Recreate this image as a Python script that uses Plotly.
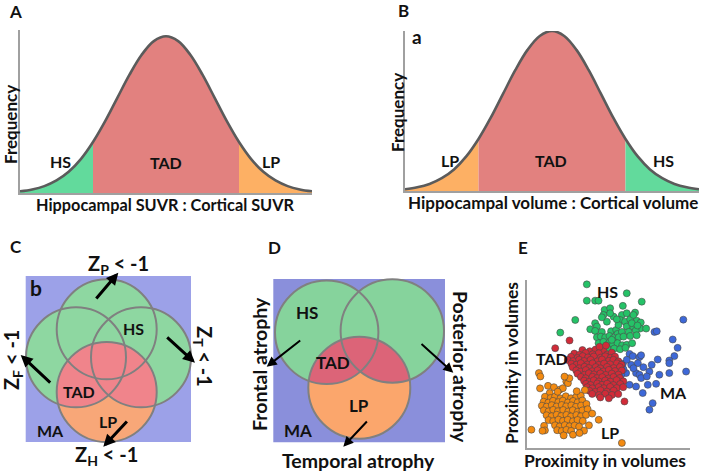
import plotly.graph_objects as go
import numpy as np

# ---------------- data ----------------
z_vals = [-3.0, -2.75, -2.5, -2.25, -2.0, -1.75, -1.5, -1.25, -1.0, -0.75, -0.5, -0.25, 0.0,
          0.25, 0.5, 0.75, 1.0, 1.25, 1.5, 1.75, 2.0, 2.25, 2.5, 2.75, 3.0]
freq_vals = [0.011, 0.023, 0.044, 0.080, 0.135, 0.216, 0.325, 0.458, 0.607, 0.755, 0.882, 0.969, 1.0,
             0.969, 0.882, 0.755, 0.607, 0.458, 0.325, 0.216, 0.135, 0.080, 0.044, 0.023, 0.011]
cut_lo, cut_hi = -1.5, 1.5
regions_A = ["HS", "TAD", "LP"]
regions_B = ["LP", "TAD", "HS"]

green_pts = [(36.7, 97.4), (36.7, 87.7), (41.8, 87.7), (43.9, 87.7), (61.2, 92.1), (70.4, 87.1), (47.6, 82.2),
             (51.0, 83.2), (46.9, 79.2), (53.1, 78.2), (58.2, 79.2), (61.2, 80.2), (66.3, 80.6), (29.6, 76.2),
             (41.8, 74.3), (42.9, 72.3), (49.0, 75.2), (57.1, 76.2), (60.2, 75.2), (63.3, 76.6), (67.3, 75.8),
             (69.8, 74.7), (61.2, 72.3), (65.3, 71.9), (69.4, 71.1), (73.1, 71.1), (20.4, 68.7), (38.8, 70.7),
             (41.8, 69.7), (45.9, 69.1), (51.6, 69.5), (54.7, 70.3), (55.5, 67.9), (58.2, 69.1), (62.4, 69.1),
             (66.7, 69.9), (42.9, 65.9), (45.3, 66.3), (48.0, 65.9), (50.6, 66.7), (53.1, 65.5), (56.3, 65.9),
             (59.2, 66.3), (63.3, 66.7), (67.3, 67.1), (43.9, 62.4), (46.9, 63.2), (50.0, 62.0), (52.7, 61.2),
             (55.5, 62.4), (58.4, 61.2), (61.2, 61.4), (64.5, 62.4), (49.4, 59.2), (53.5, 59.2), (57.1, 58.8),
             (60.4, 59.6), (56.1, 73.3), (52.0, 64.4), (65.3, 79.2), (58.8, 84.6), (51.0, 80.2), (45.9, 77.8),
             (55.1, 76.6), (64.3, 74.3), (67.8, 72.9)]
blue_pts = [(95.9, 76.4), (78.2, 69.1), (79.6, 69.5), (89.4, 64.6), (92.4, 59.6), (103.1, 58.8), (62.9, 56.0),
            (64.9, 54.7), (69.0, 54.1), (70.0, 55.2), (80.2, 52.7), (90.4, 54.7), (87.3, 52.1), (58.8, 50.1),
            (63.9, 49.5), (68.0, 50.5), (87.3, 50.5), (97.6, 45.5), (60.8, 44.6), (66.9, 44.6), (69.0, 43.6),
            (70.0, 41.6), (75.1, 45.5), (81.2, 43.6), (87.3, 44.6), (62.9, 37.6), (66.9, 36.6), (74.1, 37.6),
            (79.2, 38.2), (71.0, 32.7), (77.1, 26.7), (75.1, 22.8), (57.8, 43.6), (61.2, 52.5), (65.3, 47.5),
            (71.4, 48.1), (76.5, 49.5), (59.2, 46.9), (73.5, 42.6)]
red_pts = [(34, 58.3), (38.5, 57.6), (42, 58.6), (47, 57.9), (44.5, 60.2), (48.5, 61.0),
           (29, 56.2), (32.2, 55.5), (36, 56.6), (40.3, 55.8), (44, 56.4), (49.2, 55.7), (52, 56.8),
           (27, 54.3), (31, 53.6), (34.2, 54.7), (37.4, 53.9), (41, 54.5), (45.2, 53.8), (48, 54.6), (51.3, 53.7), (54, 54.4),
           (25, 52.4), (28.3, 51.7), (32, 52.6), (35.1, 51.8), (39, 52.5), (43.2, 51.6), (46, 52.7), (50.2, 51.9), (53, 52.5), (56.1, 51.6),
           (27.2, 50.2), (30.4, 49.6), (33, 50.5), (37.1, 49.7), (40.2, 50.4), (44, 49.5), (47.3, 50.3), (51, 49.8), (55.2, 50.4), (58, 49.6),
           (28, 48.1), (32.1, 47.5), (35.3, 48.4), (38, 47.6), (42.2, 48.2), (45, 47.4), (49.1, 48.3), (53.2, 47.6), (57, 48.2),
           (30.2, 46.2), (33, 45.5), (36.1, 46.4), (40, 45.7), (43.3, 46.3), (47, 45.6), (50.2, 46.5), (54, 45.8), (58.2, 46.1),
           (31, 44.2), (35.2, 43.6), (38, 44.5), (41.1, 43.8), (45, 44.4), (48.3, 43.5), (52, 44.3), (56.1, 43.7),
           (33.1, 42.3), (36, 41.5), (40.2, 42.4), (43, 41.6), (46.2, 42.2), (50, 41.4), (53.1, 42.3), (57, 41.7),
           (35, 40.1), (38.2, 39.4), (41, 40.3), (44.1, 39.6), (48, 40.2), (51.2, 39.5), (55, 40.4), (59.1, 39.7),
           (36.2, 38.2), (39, 37.5), (43.1, 38.4), (46, 37.6), (49.2, 38.3), (53, 37.5), (57.2, 38.1),
           (37, 36.2), (40.1, 35.5), (44, 36.3), (47.2, 35.6), (51, 36.4), (55.1, 35.7), (59, 36.2),
           (38.2, 34.1), (42, 33.5), (45.1, 34.4), (49, 33.6), (53.2, 34.2),
           (40, 32.2), (44.2, 31.5), (48, 32.3), (52.1, 31.6), (56, 32.1),
           (45, 30.1), (50.2, 29.6), (17.3, 59.4), (26.1, 64.0), (59.8, 27.7)]
orange_pts = [(7.3, 44.6), (8.2, 42.6), (12.9, 37.0), (13.9, 32.7), (20, 34.7), (22, 35.6), (24.1, 39.6), (25.1, 38.6), (26, 41.5), (23, 42.5),
              (11, 30.5), (14.5, 29.8), (17.2, 30.6), (20.5, 29.5), (23.8, 30.8), (27, 29.6), (30.2, 30.5), (33, 31.2),
              (10.2, 27.6), (13.1, 27.0), (16, 28.1), (19.2, 27.3), (22, 28.2), (25.1, 27.1), (28.3, 28.0), (31.1, 27.2), (34, 28.3),
              (9.1, 25.2), (12, 24.6), (15.2, 25.5), (18.1, 24.7), (21.3, 25.6), (24, 24.8), (27.2, 25.4), (30, 24.5), (33.2, 25.3), (36.5, 26.2),
              (10.3, 22.4), (13.2, 21.8), (16.1, 22.7), (19, 21.9), (22.2, 22.6), (25.3, 21.7), (28.1, 22.5), (31.2, 21.6), (34, 22.4), (37.2, 23.1),
              (12, 19.5), (15.1, 18.9), (18.2, 19.8), (21, 19.0), (24.2, 19.7), (27, 18.8), (30.3, 19.6), (33.1, 18.9), (36.2, 19.7), (40, 20.5),
              (13.2, 16.6), (16.1, 16.0), (19.3, 16.9), (22.1, 16.1), (25, 16.8), (28.2, 15.9), (31, 16.7), (34.2, 16.1), (44, 16.8),
              (10.5, 13.2), (17.2, 13.5), (20, 12.8), (23.2, 13.6), (26.1, 12.9), (29.2, 13.4), (32, 12.7), (38, 13.5),
              (11, 10.5), (18.5, 10.6), (21.3, 10.1), (24.2, 10.8), (27.1, 10.2), (35, 10.3),
              (2.7, 10.9), (9.5, 10.2), (22.5, 7.5), (28.2, 7.9), (32.2, 8.9), (58.2, 3.0),
              (8, 35.5), (16.5, 36.2), (18.8, 33.5), (30.5, 33.8), (35.5, 34.5)]

# ---------------- styles ----------------
FONT = "Lato, 'Open Sans', sans-serif"
W, H = 704, 472
C_TAD, C_HS, C_LP = "#e2817f", "#62da9c", "#fdb064"
CURVE = "#5b5b5b"
AXC = "#a0a0a0"

fig = go.Figure()


def dom_x(a, b):
    return [a / W, b / W]


def dom_y(top, bottom):
    return [1 - bottom / H, 1 - top / H]


region_color = {"HS": C_HS, "TAD": C_TAD, "LP": C_LP}


def add_bell(xa, ya, regions):
    z = np.array(z_vals)
    f = np.array(freq_vals)
    masks = [z <= cut_lo, (z >= cut_lo) & (z <= cut_hi), z >= cut_hi]
    for reg, m in zip(regions, masks):
        fig.add_trace(go.Scatter(x=z[m], y=f[m], mode="lines", line=dict(width=0, shape="spline"),
                                 fill="tozeroy", fillcolor=region_color[reg], xaxis=xa, yaxis=ya,
                                 hoverinfo="skip", showlegend=False))
    fig.add_trace(go.Scatter(x=z, y=f, mode="lines", line=dict(width=2.6, color=CURVE, shape="spline"),
                             xaxis=xa, yaxis=ya, hoverinfo="skip", showlegend=False, cliponaxis=False))


add_bell("x", "y", regions_A)
add_bell("x2", "y2", regions_B)

# scatter panel E
for pts, col in [(green_pts, "#25c267"), (blue_pts, "#3d68d8"), (red_pts, "#d12b38"), (orange_pts, "#f38a10")]:
    fig.add_trace(go.Scatter(x=[p[0] for p in pts], y=[p[1] for p in pts], mode="markers",
                             marker=dict(size=7, color=col, line=dict(width=0.6, color="#4a4a4a")),
                             xaxis="x3", yaxis="y3", cliponaxis=False, hoverinfo="skip", showlegend=False))

# invisible canvas trace
fig.add_trace(go.Scatter(x=[0], y=[0], mode="markers", marker=dict(opacity=0), xaxis="x4", yaxis="y4",
                         hoverinfo="skip", showlegend=False))

ax_common = dict(showgrid=False, zeroline=False, showticklabels=False, ticks="", fixedrange=True)
line_ax = dict(showline=True, linecolor=AXC, linewidth=1.5, **ax_common)
fig.update_layout(
    width=W, height=H, margin=dict(l=0, r=0, t=0, b=0),
    paper_bgcolor="white", plot_bgcolor="rgba(0,0,0,0)",
    xaxis=dict(domain=dom_x(20, 312), range=[-3, 3], anchor="y", **line_ax),
    yaxis=dict(domain=dom_y(30, 193), range=[0, 1.04], anchor="x", **line_ax),
    xaxis2=dict(domain=dom_x(405, 699), range=[-3, 3], anchor="y2", **line_ax),
    yaxis2=dict(domain=dom_y(31, 191), range=[0, 1.0], anchor="x2", **line_ax),
    xaxis3=dict(domain=dom_x(527, 690), range=[0, 100], anchor="y3", **line_ax),
    yaxis3=dict(domain=dom_y(280, 448), range=[0, 100], anchor="x3", **line_ax),
    xaxis4=dict(domain=[0, 1], range=[0, W], anchor="y4", visible=False, **ax_common),
    yaxis4=dict(domain=[0, 1], range=[H, 0], anchor="x4", visible=False, **ax_common),
)


# ---------------- geometry helpers for Venn panels ----------------
def circle_poly(cx, cy, r, n=180):
    t = np.linspace(0, 2 * np.pi, n, endpoint=False)
    return list(zip(cx + r * np.cos(t), cy + r * np.sin(t)))


def clip_poly(subject, clipper):
    def inside(p, a, b):
        return (b[0] - a[0]) * (p[1] - a[1]) - (b[1] - a[1]) * (p[0] - a[0]) >= 0

    def inter(p, q, a, b):
        x1, y1 = p; x2, y2 = q; x3, y3 = a; x4, y4 = b
        den = (x1 - x2) * (y3 - y4) - (y1 - y2) * (x3 - x4)
        t = ((x1 - x3) * (y3 - y4) - (y1 - y3) * (x3 - x4)) / den
        return (x1 + t * (x2 - x1), y1 + t * (y2 - y1))

    out = subject
    for i in range(len(clipper)):
        a, b = clipper[i], clipper[(i + 1) % len(clipper)]
        inp = out
        out = []
        if not inp:
            break
        s = inp[-1]
        for e in inp:
            if inside(e, a, b):
                if not inside(s, a, b):
                    out.append(inter(s, e, a, b))
                out.append(e)
            elif inside(s, a, b):
                out.append(inter(s, e, a, b))
            s = e
    return out


def path_of(poly):
    return "M " + " L ".join(f"{x:.2f},{y:.2f}" for x, y in poly) + " Z"


shapes = []


def rect(x0, y0, x1, y1, color):
    shapes.append(dict(type="rect", xref="x4", yref="y4", x0=x0, y0=y0, x1=x1, y1=y1,
                       fillcolor=color, line=dict(width=0), layer="above"))


def circ(c, fill=None, outline=None):
    cx, cy, r = c
    shapes.append(dict(type="circle", xref="x4", yref="y4", x0=cx - r, y0=cy - r, x1=cx + r, y1=cy + r,
                       fillcolor=fill if fill else "rgba(0,0,0,0)",
                       line=dict(width=2 if outline else 0, color=outline if outline else "rgba(0,0,0,0)"),
                       layer="above"))


def lens(c_base, c_other, color):
    poly = clip_poly(circle_poly(*c_base), circle_poly(*c_other))
    if poly:
        shapes.append(dict(type="path", xref="x4", yref="y4", path=path_of(poly), fillcolor=color,
                           line=dict(width=0), layer="above"))


OUT = "#808080"
# Panel C
c_top, c_left, c_right, c_bot = (106.7, 329.3, 50), (76, 357.3, 50), (141, 357.3, 50), (106.7, 392, 50)
rect(25.7, 276, 191, 442, "#9ca1e8")
for c in [c_top, c_left, c_right]:
    circ(c, fill="#8ed7a1")
circ(c_bot, fill="#f8a778")
for c in [c_top, c_left, c_right]:
    lens(c_bot, c, "#f0848b")
for c in [c_top, c_left, c_right, c_bot]:
    circ(c, outline=OUT)

# Panel D
d_tl, d_tr, d_bot = (326.7, 332.3, 51.7), (392.3, 331, 51.7), (359.3, 387.7, 51)
rect(273.3, 279, 445, 442.3, "#8a8fdb")
for c in [d_tl, d_tr]:
    circ(c, fill="#86d39c")
circ(d_bot, fill="#fba66c")
for c in [d_tl, d_tr]:
    lens(d_bot, c, "#dc6478")
for c in [d_tl, d_tr, d_bot]:
    circ(c, outline=OUT)

fig.update_layout(shapes=shapes)

# ---------------- text ----------------
ann = []


def txt(s, x, y, size=15, angle=0, bold=True):
    ann.append(dict(text=f"<b>{s}</b>" if bold else s, x=x, y=y, xref="x4", yref="y4", showarrow=False,
                    xanchor="center", yanchor="middle", textangle=angle,
                    font=dict(family=FONT, size=size, color="#111111")))


def arrow(tail, head, width, size=0.9):
    ann.append(dict(text="", x=head[0], y=head[1], ax=tail[0], ay=tail[1], xref="x4", yref="y4",
                    axref="x4", ayref="y4", showarrow=True, arrowhead=2, arrowsize=size,
                    arrowwidth=width, arrowcolor="#000000"))


# Panel A
txt("A", 15, 11, 17)
txt("Frequency", 10, 125, 17, -90)
txt("HS", 60, 161, 16)
txt("TAD", 166, 162, 16)
txt("LP", 271, 161, 16)
txt("Hippocampal SUVR : Cortical SUVR", 165, 204, 16.3)
# Panel B
txt("B", 403, 10, 17)
txt("a", 417, 36, 19)
txt("Frequency", 397, 113, 17, -90)
txt("LP", 450, 160, 16)
txt("TAD", 551, 160, 16)
txt("HS", 663, 160, 16)
txt("Hippocampal volume : Cortical volume", 553, 202, 17)
# Panel C
txt("C", 16, 246, 17)
txt("b", 36, 287, 21)
txt("Z<sub>P</sub> &lt; -1", 118, 264, 20)
txt("Z<sub>T</sub> &lt; -1", 204, 356, 20, 90)
txt("Z<sub>F</sub> &lt; -1", 12, 360, 20, -90)
txt("Z<sub>H</sub> &lt; -1", 106, 455, 20)
txt("HS", 133, 328, 16)
txt("TAD", 79, 391, 16)
txt("LP", 108, 421, 16)
txt("MA", 50, 430, 16)
arrow((95, 300), (118.3, 272.7), 3, 0.8)
arrow((165.7, 336), (195, 362.7), 3, 0.8)
arrow((51.7, 384), (20.7, 355), 3, 0.8)
arrow((128.3, 420), (103.3, 446.7), 3, 0.8)
# Panel D
txt("D", 274, 247, 17)
txt("HS", 307, 312, 17)
txt("TAD", 333, 362, 17)
txt("LP", 359, 405, 17)
txt("MA", 298, 430, 17)
txt("Frontal atrophy", 259, 364, 19.5, -90)
txt("Posterior atrophy", 461, 367, 19.5, 90)
txt("Temporal atrophy", 358, 460, 19.5)
arrow((301.7, 339.3), (266.7, 366.7), 2, 1)
arrow((420, 342.7), (453.3, 372.7), 2, 1)
arrow((368.3, 420), (343.3, 446.7), 2, 1)
# Panel E
txt("E", 523, 247, 17)
txt("Proximity in volumes", 605, 460, 17.5)
txt("Proximity in volumes", 511, 363, 17.5, -90)
txt("HS", 607, 291, 16)
txt("TAD", 552, 358, 16)
txt("MA", 673, 392, 16)
txt("LP", 610, 432, 16)

fig.update_layout(annotations=ann)
fig.write_html("out.html", config={"displayModeBar": False},
               post_script="document.body.style.margin='0px';")
